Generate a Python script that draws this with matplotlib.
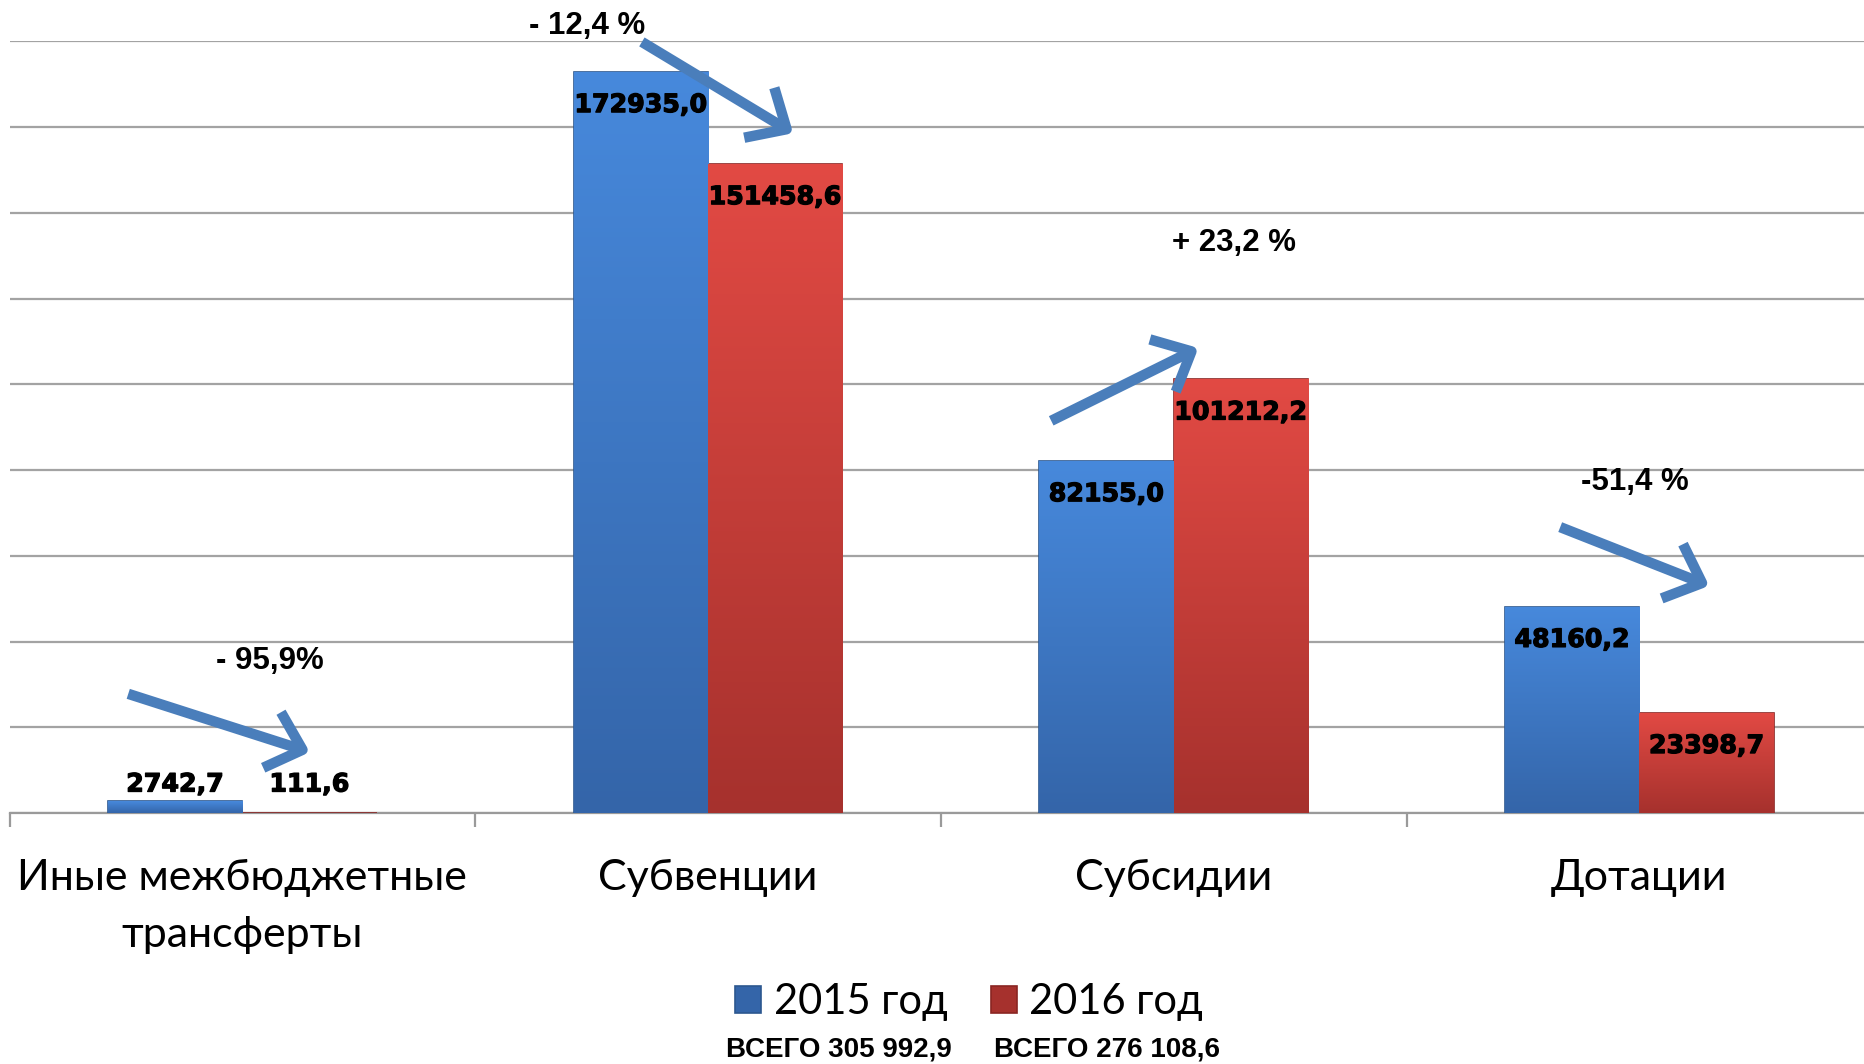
# coding: utf-8
"""Межбюджетные трансферты 2015-2016, столбчатая диаграмма"""

import numpy as np
import matplotlib.pyplot as plt
import matplotlib.patheffects as pe
from matplotlib.colors import LinearSegmentedColormap

categories = ['Иные межбюджетные\nтрансферты', 'Субвенции', 'Субсидии', 'Дотации']
values_2015 = [2742.7, 172935.0, 82155.0, 48160.2]
values_2016 = [111.6, 151458.6, 101212.2, 23398.7]
labels_2015 = ['2742,7', '172935,0', '82155,0', '48160,2']
labels_2016 = ['111,6', '151458,6', '101212,2', '23398,7']
series_names = ['2015 год', '2016 год']
totals = ['ВСЕГО 305 992,9', 'ВСЕГО 276 108,6']

# изменения: текст, позиция подписи, начало и конец стрелки (в координатах данных)
changes = [
    ('- 95,9%', (0.06, 35500), (-0.245, 27800), (0.145, 14200)),
    ('- 12,4 %', (0.74, 183600), (0.858, 179900), (1.183, 158600)),
    ('+ 23,2 %', (2.13, 133100), (1.737, 91500), (2.053, 108500)),
    ('-51,4 %', (2.99, 77300), (2.830, 66700), (3.150, 53000)),
]

fig = plt.figure(figsize=(18.64, 10.64), dpi=100)
ax = fig.add_axes([0.0051, 0.2359, 0.9993, 0.7251])

x = np.arange(len(categories))
w = 0.2885
blue = ('#4789dc', '#3465a9', '#2c578f')
red = ('#e24a44', '#a6312d', '#8a2522')

bars = []
for vals, col, off in [(values_2015, blue, -w / 2), (values_2016, red, w / 2)]:
    b = ax.bar(x + off, vals, w, color=col[1], edgecolor=col[2], linewidth=1.2, zorder=3)
    cmap = LinearSegmentedColormap.from_list('g', [col[1], col[0]])
    grad = np.linspace(0, 1, 256).reshape(-1, 1)
    for r in b:
        im = ax.imshow(grad, cmap=cmap, origin='lower', aspect='auto', zorder=3.5,
                       extent=[r.get_x(), r.get_x() + r.get_width(), 0, r.get_height()])
        im.set_clip_path(r)
    bars.append(b)

ax.set_xlim(-0.5, 3.5)
ax.set_ylim(0, 180000)
ax.set_yticks(np.arange(0, 180001, 20000))
ax.yaxis.grid(True, color='#a3a3a3', linewidth=1.6, zorder=0)
ax.set_axisbelow(True)
ax.tick_params(axis='y', left=False, labelleft=False)
for s in ['left', 'right', 'top']:
    ax.spines[s].set_visible(False)
ax.spines['bottom'].set_color('#9a9a9a')
ax.spines['bottom'].set_linewidth(1.6)

ax.set_xticks(x)
ax.set_xticklabels(categories, fontsize=31, family=['Lato', 'DejaVu Sans'],
                   linespacing=1.63)
ax.set_xticks(np.arange(-0.5, 3.6, 1), minor=True)
ax.tick_params(axis='x', which='major', length=0, pad=33)
ax.tick_params(axis='x', which='minor', length=10, width=1.6, color='#9a9a9a')

lbl = dict(ha='center', va='center', fontsize=18.2, fontweight='bold',
           family='DejaVu Sans', zorder=5,
           path_effects=[pe.withStroke(linewidth=0.9, foreground='black')])
for b, labels in zip(bars, [labels_2015, labels_2016]):
    for r, t in zip(b, labels):
        cx = r.get_x() + r.get_width() / 2
        h = r.get_height()
        if h > 10000:
            ax.annotate(t, (cx, h), xytext=(0, -24), textcoords='offset points', **lbl)
        else:
            ax.annotate(t, (cx, 0), xytext=(0, 20.5), textcoords='offset points', **lbl)

for txt, pos, start, end in changes:
    ax.text(pos[0], pos[1], txt, ha='center', va='center', fontsize=22.5,
            fontweight='bold', family='Liberation Sans', zorder=6, clip_on=False)
    ax.annotate('', xy=end, xytext=start, zorder=6, annotation_clip=False,
                arrowprops=dict(arrowstyle='->,head_length=1.15,head_width=1.05',
                                mutation_scale=20, color='#4a7ebb', linewidth=7.5,
                                shrinkA=0, shrinkB=0, capstyle='butt', joinstyle='round'))

leg = fig.legend([bars[0][0], bars[1][0]], series_names, loc='center', ncol=2,
                 bbox_to_anchor=(0.520, 0.058), frameon=False,
                 prop={'family': ['Lato', 'DejaVu Sans'], 'size': 30},
                 handlelength=0.62, handleheight=0.62, handletextpad=0.3,
                 columnspacing=1.05)

fig.text(0.450, 0.014, totals[0], ha='center', va='center', fontsize=20,
         fontweight='bold', family=['Liberation Sans Narrow', 'Liberation Sans'])
fig.text(0.594, 0.014, totals[1], ha='center', va='center', fontsize=20,
         fontweight='bold', family=['Liberation Sans Narrow', 'Liberation Sans'])

fig.savefig('out.png', dpi=100)
plt.close(fig)
